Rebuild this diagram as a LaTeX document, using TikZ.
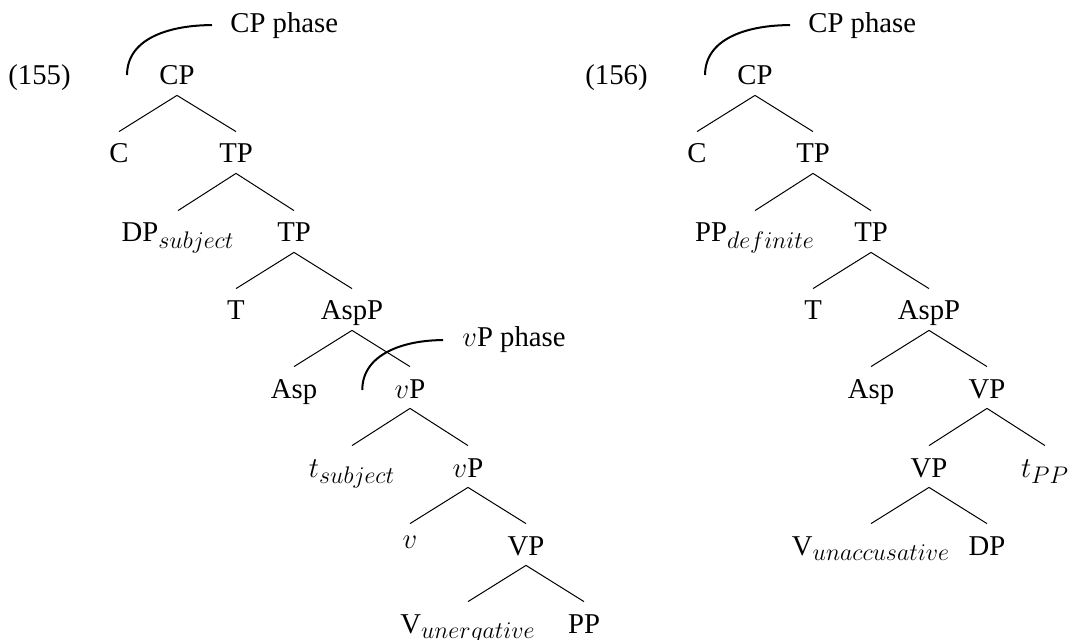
\documentclass[tikz,border=0pt]{standalone}
\usepackage{fontspec}
\setmainfont{Liberation Serif}
\usetikzlibrary{calc}
% slightly larger script size for the subscripts at this text size
\DeclareMathSizes{14.35}{14.35}{11.5}{8.6}
\begin{document}
\begin{tikzpicture}[x=0.5pt,y=-0.5pt,
  every node/.style={font=\fontsize{14.35}{17}\selectfont, inner sep=0pt},
  cat/.style={anchor=base, text height=15.5pt, text depth=5pt},
  lbl/.style={anchor=base west},
  branch/.style={line width=0.5pt},
  phasearc/.style={line width=1pt}]
\useasboundingbox (0,0) rectangle (1068,640);

% ---------- (155): unergative ----------
\node[lbl] (exL) at (8,85) {(155)};
\node[cat] (cpL)   at (177,85)  {CP};
\node[cat] (cL)    at (119,163) {C};
\node[cat] (tpL)   at (236,163) {TP};
\node[cat] (dpL)   at (178,242) {DP$_{subject}$};
\node[cat] (tpbL)  at (294,242) {TP};
\node[cat] (tL)    at (236,320) {T};
\node[cat] (asppL) at (352,320) {AspP};
\node[cat] (aspL)  at (294,398) {Asp};
\node[cat] (vpL)   at (410,398) {$v$P};
\node[cat] (tsL)   at (352,477) {$t_{subject}$};
\node[cat] (vpbL)  at (468,477) {$v$P};
\node[cat] (vL)    at (410,555) {\raisebox{3.5pt}{$v$}};
\node[cat] (vpcL)  at (526,555) {VP};
\node[cat] (vunL)  at (468,633) {V$_{unergative}$};
\node[cat] (ppL)   at (584,633) {PP};

\foreach \p/\c in {cpL/cL, cpL/tpL, tpL/dpL, tpL/tpbL, tpbL/tL, tpbL/asppL,
                   asppL/aspL, asppL/vpL, vpL/tsL, vpL/vpbL, vpbL/vL, vpbL/vpcL,
                   vpcL/vunL, vpcL/ppL}
  \draw[branch] (\p.south) -- (\c.north);

% phase labels
\node[lbl] (phCL) at (230,33)  {CP phase};
\node[lbl] (phvL) at (462,347) {$v$P phase};
\coordinate (arcCL) at ($(cpL.base west)+(-32,-10)$);
\coordinate (arcvL) at ($(vpL.base west)+(-32,-8)$);
\draw[phasearc] (arcCL) to[out=90,in=180] ($(phCL.west)+(-18,-1)$);
\draw[phasearc] (arcvL) to[out=90,in=180] ($(phvL.west)+(-19,0)$);

% ---------- (156): unaccusative ----------
\node[lbl] (exR) at (585,85) {(156)};
\node[cat] (cpR)   at (755,85)  {CP};
\node[cat] (cR)    at (697,163) {C};
\node[cat] (tpR)   at (813,163) {TP};
\node[cat] (ppdR)  at (755,242) {PP$_{definite}$};
\node[cat] (tpbR)  at (871,242) {TP};
\node[cat] (tR)    at (813,320) {T};
\node[cat] (asppR) at (929,320) {AspP};
\node[cat] (aspR)  at (871,398) {Asp};
\node[cat] (vpR)   at (987,398) {VP};
\node[cat] (vpbR)  at (929,477) {VP};
\node[cat] (tppR)  at (1045,477) {$t_{PP}$};
\node[cat] (vunR)  at (871,555) {V$_{unaccusative}$};
\node[cat] (dpR)   at (987,555) {DP};

\foreach \p/\c in {cpR/cR, cpR/tpR, tpR/ppdR, tpR/tpbR, tpbR/tR, tpbR/asppR,
                   asppR/aspR, asppR/vpR, vpR/vpbR, vpR/tppR, vpbR/vunR, vpbR/dpR}
  \draw[branch] (\p.south) -- (\c.north);

\node[lbl] (phCR) at (808,33) {CP phase};
\coordinate (arcCR) at ($(cpR.base west)+(-32,-10)$);
\draw[phasearc] (arcCR) to[out=90,in=180] ($(phCR.west)+(-18,-1)$);
\end{tikzpicture}
\end{document}
